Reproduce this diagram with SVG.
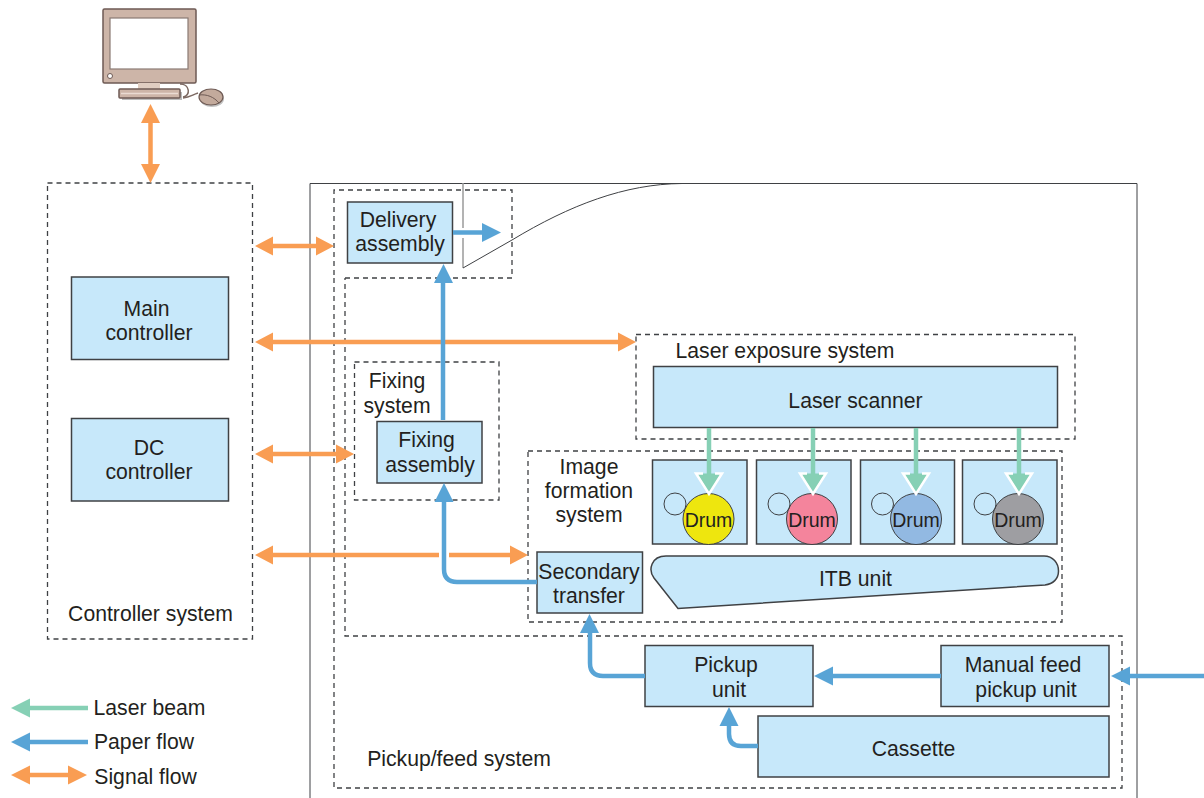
<svg xmlns="http://www.w3.org/2000/svg" width="1204" height="798" viewBox="0 0 1204 798">
<style>
text{font-family:"Liberation Sans",Arial,sans-serif;font-size:21.2px;fill:#231f20;text-anchor:middle;transform:translateY(.5px)}
.box{fill:#c7e8fa;stroke:#3f4144;stroke-width:1.5}
.dash{fill:none;stroke:#3f4144;stroke-width:1.3;stroke-dasharray:5 4}
.thin{fill:none;stroke:#3f4144;stroke-width:1}
.sig{fill:none;stroke:#f99d53;stroke-width:4.5}
.sigh{fill:#f99d53}
.pap{fill:none;stroke:#58a4d6;stroke-width:4.5}
.paph{fill:#58a4d6}
.las{fill:none;stroke:#86d0b5;stroke-width:4.5}
.lash{fill:#86d0b5}
.lasw{fill:none;stroke:#fff;stroke-width:2.5}
.drum{stroke:#3f4144;stroke-width:1}
.dt{font-size:19.5px}
</style>
<g id="frame">
<path class="thin" d="M310 798V183.500H1137V798"/>
<path d="M463 183V228M463 238V268" fill="none" stroke="#9a9a9a" stroke-width="1.500"/>
<path class="thin" d="M463 268L512 240C570 205 625 184 682 183.500"/>
</g>
<g id="computer">
<rect x="122" y="92" width="60" height="8" fill="#8f8f8f" opacity=".6"/>
<path d="M180 84C190 84 191 96 183 97" fill="none" stroke="#7d6a63" stroke-width="1.500"/>
<path d="M183 98C190 97 192 95 198 93" fill="none" stroke="#7d6a63" stroke-width="1.500"/>
<ellipse cx="212" cy="99" rx="12" ry="8" fill="#9a9a9a" opacity=".6"/>
<rect x="103" y="9" width="93" height="74" rx="1.500" fill="#cdb5a8" stroke="#6e5a54" stroke-width="1.500"/>
<rect x="110" y="18" width="78" height="51" fill="#fff" stroke="#8a7a74" stroke-width="1.200"/>
<circle cx="110" cy="76" r="2.500" fill="#fff" stroke="#6e5a54"/>
<rect x="138" y="83" width="22" height="6" fill="#e0cdc1"/>
<rect x="119" y="89" width="61" height="9" rx="1" fill="#cdb5a8" stroke="#6e5a54" stroke-width="1.500"/>
<path d="M121 93.500H178" stroke="#eadbd2" stroke-width="1.500"/>
<ellipse cx="211" cy="97" rx="12" ry="8" fill="#c3aa9c" stroke="#6e5a54" stroke-width="1.200"/>
<path d="M199 95C207 94 214 97 219 103" fill="none" stroke="#6e5a54"/>
</g>
<g id="controller-system">
<rect class="dash" x="47.500" y="183" width="205" height="456"/>
<text x="150.500" y="620">Controller system</text>
</g>
<g id="main-controller"><rect class="box" x="71.500" y="277" width="157" height="82.500"/><text x="146.500" y="315">Main</text><text x="149" y="339">controller</text></g>
<g id="dc-controller"><rect class="box" x="71.500" y="418.500" width="157" height="82.500"/><text x="149" y="454">DC</text><text x="149" y="478">controller</text></g>
<g id="delivery-system"><path class="dash" d="M345 278H512V190H334V278"/></g>
<g id="pickup-feed-system"><path class="dash" d="M334 278V788H1122V636H345V278"/><text x="459" y="765">Pickup/feed system</text></g>
<g id="fixing-system"><rect class="dash" x="354.500" y="362" width="144.500" height="138"/><text x="397" y="387">Fixing</text><text x="397" y="412">system</text></g>
<g id="laser-exposure-system"><rect class="dash" x="636" y="334.500" width="439" height="104.500"/><text x="785" y="357">Laser exposure system</text></g>
<g id="image-formation-system"><rect class="dash" x="528" y="451" width="534" height="171"/><text x="589" y="473">Image</text><text x="589" y="497">formation</text><text x="589" y="521">system</text></g>
<g id="delivery-assembly"><rect class="box" x="347.500" y="202" width="105" height="61"/><text x="398" y="226">Delivery</text><text x="400" y="250">assembly</text></g>
<g id="fixing-assembly"><rect class="box" x="377" y="421.500" width="105" height="61.500"/><text x="426.500" y="446">Fixing</text><text x="430" y="471">assembly</text></g>
<g id="laser-scanner"><rect class="box" x="653.500" y="366.500" width="404" height="61"/><text x="855.500" y="407">Laser scanner</text></g>
<g id="drum-1"><rect class="box" x="652.500" y="460" width="94.500" height="84"/><circle class="drum" cx="708.500" cy="519" r="25.500" fill="#eee60e"/><circle class="thin" cx="675" cy="504" r="11"/><text class="dt" x="708.500" y="526">Drum</text></g>
<g id="drum-2"><rect class="box" x="756.500" y="460" width="94.500" height="84"/><circle class="drum" cx="812" cy="519" r="25.500" fill="#f4849c"/><circle class="thin" cx="779" cy="504" r="11"/><text class="dt" x="812" y="526">Drum</text></g>
<g id="drum-3"><rect class="box" x="860.500" y="460" width="94" height="84"/><circle class="drum" cx="916" cy="519" r="25.500" fill="#92b9e2"/><circle class="thin" cx="882.500" cy="504" r="11"/><text class="dt" x="916" y="526">Drum</text></g>
<g id="drum-4"><rect class="box" x="962.500" y="460" width="94.500" height="84"/><circle class="drum" cx="1018" cy="519" r="25.500" fill="#9e9ea2"/><circle class="thin" cx="985" cy="504" r="11"/><text class="dt" x="1018" y="526">Drum</text></g>
<g id="itb-unit"><path class="box" stroke-width="1" d="M666 556H1044C1053 556 1058.500 563 1058.500 571C1058.500 579 1053 584 1045 585L678 608.500L654 578C648 570 651 556 666 556Z"/><text x="855.500" y="585">ITB unit</text></g>
<g id="secondary-transfer"><rect class="box" x="537" y="552" width="105.500" height="61"/><text x="589" y="578">Secondary</text><text x="589" y="602">transfer</text></g>
<g id="pickup-unit"><rect class="box" x="645" y="645.500" width="168" height="61"/><text x="726" y="671">Pickup</text><text x="729" y="696">unit</text></g>
<g id="manual-feed"><rect class="box" x="941" y="645.500" width="168" height="61"/><text x="1023" y="671">Manual feed</text><text x="1026" y="696">pickup unit</text></g>
<g id="cassette"><rect class="box" x="758" y="716" width="351" height="61"/><text x="913.500" y="755">Cassette</text></g>
<g id="connectors">
<path class="sig" d="M150.500 122V164"/><path class="sigh" d="M150.500 104L160 123H141ZM150.500 183L160 164H141Z"/>
<path class="sig" d="M272 246H316"/><path class="sigh" d="M255 246L273 236.500V255.500ZM334 246L316 236.500V255.500Z"/>
<path class="sig" d="M272 342H618"/><path class="sigh" d="M255 342L273 332.500V351.500ZM636 342L618 332.500V351.500Z"/>
<path class="sig" d="M272 454H336"/><path class="sigh" d="M255 454L273 444.500V463.500ZM354 454L336 444.500V463.500Z"/>
<path class="sig" d="M272 555H439M449 555H510"/><path class="sigh" d="M255 555L273 545.500V564.500ZM528 555L510 545.500V564.500Z"/>
<path class="pap" d="M453 232.500H483"/><path class="paph" d="M501 232.500L482 223V242Z"/>
<path class="pap" d="M443 420V283"/><path class="paph" d="M443.500 264L434 283H453Z"/>
<path class="pap" d="M537 582H457Q444 582 444 569V502"/><path class="paph" d="M444 483L434.500 502H453.500Z"/>
<path class="pap" d="M645 676H603Q590 676 590 663V633"/><path class="paph" d="M589.500 614L580 633H599Z"/>
<path class="pap" d="M758 746H741Q729 746 729 734V726"/><path class="paph" d="M729 707L719.500 726H738.500Z"/>
<path class="pap" d="M941 676H832"/><path class="paph" d="M814 676L833 666.500V685.500Z"/>
<path class="pap" d="M1204 676H1130"/><path class="paph" d="M1111 676L1130 666.500V685.500Z"/>
<path class="lash" d="M697 473.500H721L709 493Z"/><path class="lasw" d="M703 473.500H696L709 494L722 473.500H715"/><path class="las" d="M709 428V480"/>
<path class="lash" d="M801 473.500H825L813 493Z"/><path class="lasw" d="M807 473.500H800L813 494L826 473.500H819"/><path class="las" d="M813 428V480"/>
<path class="lash" d="M904 473.500H928L916 493Z"/><path class="lasw" d="M910 473.500H903L916 494L929 473.500H922"/><path class="las" d="M916 428V480"/>
<path class="lash" d="M1007 473.500H1031L1019 493Z"/><path class="lasw" d="M1013 473.500H1006L1019 494L1032 473.500H1025"/><path class="las" d="M1019 428V480"/>
</g>
<g id="legend">
<path class="las" d="M30 708H88"/><path d="M11 708L30 698.500V717.500Z" fill="#86d0b5"/><text x="149.500" y="714">Laser beam</text>
<path class="pap" d="M30 742H88"/><path class="paph" d="M11 742L30 732.500V751.500Z"/><text x="144" y="748">Paper flow</text>
<path class="sig" d="M29 775H69"/><path class="sigh" d="M11 775L30 765.500V784.500ZM87 775L68 765.500V784.500Z"/><text x="145.500" y="783">Signal flow</text>
</g>
</svg>
